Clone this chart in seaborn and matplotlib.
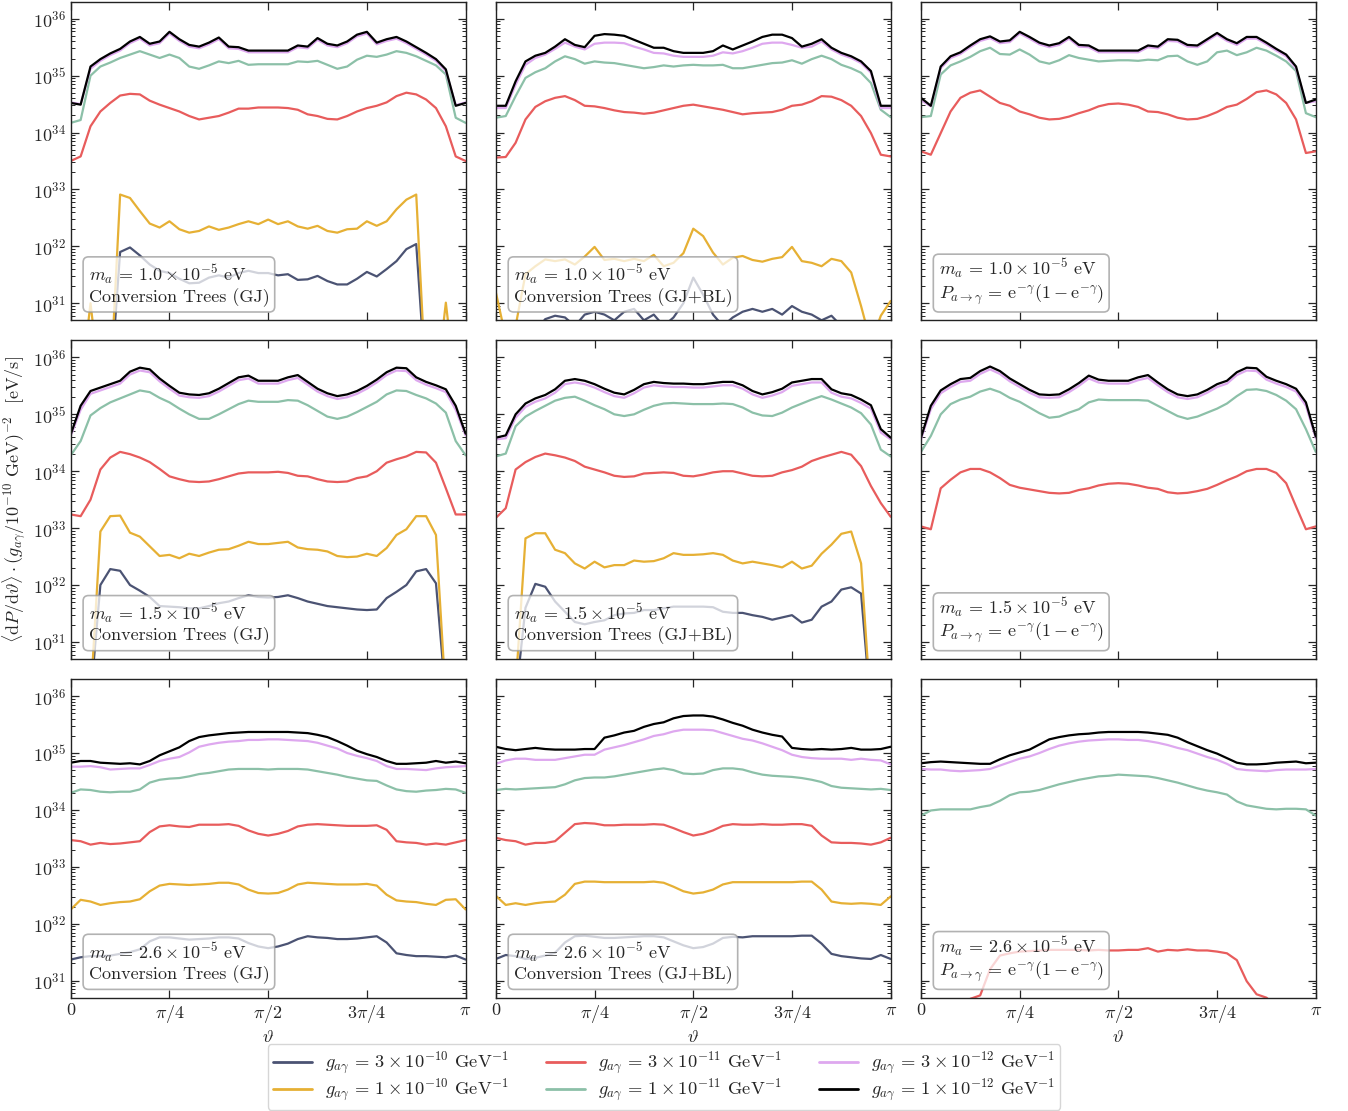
import numpy as np
import pandas as pd
import matplotlib
matplotlib.use("Agg")
import matplotlib.pyplot as plt
import seaborn as sns
from matplotlib.lines import Line2D
from matplotlib.ticker import LogLocator, NullFormatter

# ---------------------------------------------------------------------------
# Data: log10 of <dP/dtheta> (eV/s), on a 41-point grid
# theta = 0 ... pi.  Values below ~30.7 lie under the visible axis range.
# ---------------------------------------------------------------------------
N_THETA = 41

# m_a = 1.0e-5 eV, Conversion Trees (GJ)
GJ_M10_BLUE = [29.5,29.5,29.5,29.5,29.5,31.90,31.98,31.84,31.68,31.57,31.53,31.43,31.35,31.36,31.45,31.49,31.45,31.53,31.57,31.53,31.53,31.49,31.51,31.41,31.42,31.48,31.39,31.33,31.33,31.43,31.55,31.47,31.60,31.74,31.95,32.04,29.5,29.5,29.5,29.5,29.5]
GJ_M10_YELLOW = [29.5,29.5,31.0,29.5,29.5,32.91,32.85,32.62,32.40,32.33,32.44,32.30,32.24,32.27,32.35,32.29,32.33,32.39,32.44,32.39,32.47,32.39,32.44,32.35,32.31,32.36,32.27,32.24,32.30,32.31,32.44,32.36,32.44,32.65,32.82,32.91,29.5,29.5,31.01,29.5,29.5]
GJ_M10_RED = [33.50,33.58,34.11,34.37,34.52,34.65,34.68,34.67,34.56,34.49,34.43,34.37,34.29,34.23,34.26,34.29,34.35,34.42,34.42,34.44,34.44,34.44,34.43,34.40,34.32,34.29,34.24,34.23,34.29,34.37,34.43,34.47,34.53,34.64,34.70,34.67,34.58,34.43,34.11,33.58,33.50]
GJ_M10_GREEN = [34.17,34.22,35.00,35.16,35.23,35.31,35.37,35.43,35.37,35.31,35.37,35.31,35.16,35.12,35.18,35.25,35.22,35.26,35.19,35.20,35.20,35.20,35.20,35.25,35.24,35.26,35.19,35.12,35.16,35.28,35.35,35.33,35.37,35.43,35.40,35.34,35.26,35.18,35.02,34.26,34.17]
GJ_M10_VIOLET = [34.53,34.50,35.12,35.26,35.36,35.44,35.57,35.65,35.53,35.57,35.74,35.61,35.51,35.48,35.55,35.64,35.48,35.47,35.41,35.41,35.41,35.41,35.41,35.50,35.48,35.63,35.53,35.50,35.57,35.69,35.74,35.55,35.61,35.65,35.57,35.47,35.37,35.26,35.08,34.48,34.53]
GJ_M10_BLACK = [34.52,34.49,35.16,35.29,35.39,35.47,35.60,35.68,35.56,35.60,35.77,35.64,35.54,35.51,35.58,35.67,35.51,35.50,35.44,35.44,35.44,35.44,35.44,35.53,35.51,35.66,35.56,35.53,35.60,35.72,35.77,35.58,35.64,35.68,35.60,35.50,35.40,35.29,35.11,34.47,34.52]

# m_a = 1.0e-5 eV, Conversion Trees (GJ+BL)
GJBL_M10_BLUE = [29.8,29.8,30.0,30.3,30.5,30.72,30.78,30.75,30.6,30.8,30.85,30.8,30.7,30.85,30.9,30.7,30.8,30.6,30.75,31.0,31.45,31.15,30.8,30.6,30.75,30.85,30.9,30.85,30.9,30.8,30.95,30.85,30.8,30.7,30.78,30.6,30.3,30.0,29.8,29.8,29.8]
GJBL_M10_YELLOW = [31.19,30.4,30.6,31.51,31.65,31.77,31.74,31.77,31.68,31.82,31.99,31.76,31.78,31.74,31.78,31.74,31.85,31.65,31.71,31.88,32.31,32.18,31.89,31.68,31.80,31.83,31.76,31.73,31.78,31.81,31.99,31.74,31.71,31.65,31.78,31.74,31.54,30.95,30.3,30.78,31.04]
GJBL_M10_RED = [33.56,33.57,33.82,34.23,34.45,34.55,34.61,34.64,34.57,34.47,34.46,34.43,34.39,34.36,34.35,34.33,34.35,34.39,34.43,34.47,34.49,34.46,34.43,34.40,34.36,34.32,34.34,34.35,34.36,34.40,34.47,34.49,34.55,34.64,34.63,34.57,34.47,34.29,33.99,33.61,33.58]
GJBL_M10_GREEN = [34.26,34.29,34.64,34.96,35.06,35.13,35.25,35.34,35.29,35.21,35.25,35.23,35.22,35.19,35.16,35.13,35.15,35.18,35.16,35.18,35.19,35.18,35.18,35.19,35.13,35.13,35.16,35.19,35.22,35.23,35.27,35.21,35.29,35.35,35.29,35.19,35.13,35.05,34.87,34.40,34.27]
GJBL_M10_VIOLET = [34.43,34.43,34.84,35.19,35.31,35.37,35.47,35.58,35.51,35.46,35.56,35.58,35.58,35.57,35.51,35.46,35.40,35.39,35.35,35.33,35.33,35.33,35.35,35.41,35.39,35.43,35.49,35.56,35.58,35.58,35.54,35.49,35.51,35.60,35.46,35.37,35.31,35.22,35.05,34.43,34.43]
GJBL_M10_BLACK = [34.47,34.47,34.90,35.25,35.35,35.40,35.51,35.64,35.54,35.50,35.70,35.73,35.72,35.70,35.63,35.56,35.49,35.49,35.43,35.40,35.40,35.40,35.43,35.53,35.46,35.53,35.60,35.68,35.72,35.72,35.66,35.51,35.56,35.64,35.49,35.40,35.34,35.25,35.08,34.47,34.47]

# m_a = 1.0e-5 eV, analytic P = e^-g (1 - e^-g)
ANA_M10_RED = [33.67,33.61,33.99,34.37,34.61,34.70,34.74,34.63,34.52,34.47,34.37,34.32,34.26,34.23,34.24,34.28,34.34,34.39,34.46,34.50,34.51,34.49,34.45,34.37,34.36,34.32,34.26,34.23,34.24,34.29,34.36,34.45,34.49,34.59,34.71,34.74,34.67,34.52,34.23,33.64,33.67]
ANA_M10_GREEN = [34.27,34.29,35.02,35.18,35.25,35.33,35.43,35.49,35.38,35.37,35.46,35.37,35.25,35.21,35.27,35.36,35.31,35.28,35.25,35.26,35.27,35.27,35.26,35.28,35.27,35.34,35.35,35.25,35.19,35.25,35.41,35.44,35.36,35.41,35.49,35.44,35.35,35.25,35.08,34.34,34.27]
ANA_M10_VIOLET = [34.57,34.46,35.13,35.31,35.38,35.50,35.61,35.66,35.57,35.59,35.74,35.65,35.55,35.50,35.54,35.65,35.51,35.50,35.41,35.41,35.41,35.41,35.41,35.50,35.48,35.61,35.60,35.51,35.50,35.61,35.72,35.61,35.54,35.65,35.65,35.55,35.44,35.34,35.13,34.52,34.55]
ANA_M10_BLACK = [34.61,34.47,35.16,35.34,35.41,35.53,35.64,35.69,35.60,35.62,35.77,35.68,35.58,35.53,35.57,35.68,35.54,35.53,35.44,35.44,35.44,35.44,35.44,35.53,35.51,35.64,35.63,35.54,35.53,35.64,35.75,35.64,35.57,35.68,35.68,35.58,35.47,35.37,35.16,34.52,34.58]

# m_a = 1.5e-5 eV, Conversion Trees (GJ)
GJ_M15_BLUE = [29.5,29.5,30.0,32.0,32.28,32.25,32.0,31.90,31.79,31.63,31.62,31.61,31.59,31.59,31.63,31.68,31.71,31.77,31.82,31.79,31.78,31.79,31.82,31.77,31.71,31.67,31.63,31.61,31.59,31.57,31.56,31.57,31.77,31.88,32.0,32.24,32.28,32.03,30.0,29.5,29.5]
GJ_M15_YELLOW = [29.5,29.5,30.0,32.94,33.21,33.22,32.92,32.85,32.68,32.51,32.53,32.47,32.55,32.51,32.57,32.62,32.63,32.69,32.76,32.72,32.72,32.74,32.76,32.66,32.63,32.62,32.59,32.51,32.49,32.50,32.55,32.51,32.65,32.88,32.98,33.21,33.21,32.88,30.0,29.5,29.5]
GJ_M15_RED = [33.24,33.21,33.50,34.03,34.24,34.34,34.30,34.24,34.16,34.04,33.91,33.86,33.82,33.81,33.82,33.86,33.91,33.96,33.98,33.98,33.98,33.99,33.97,33.92,33.91,33.86,33.82,33.81,33.82,33.88,33.91,34.00,34.15,34.21,34.26,34.34,34.33,34.15,33.70,33.24,33.24]
GJ_M15_GREEN = [34.28,34.53,34.98,35.11,35.21,35.28,35.35,35.42,35.39,35.29,35.21,35.10,35.00,34.92,34.92,35.00,35.09,35.18,35.24,35.22,35.22,35.22,35.25,35.24,35.16,35.06,34.96,34.92,34.96,35.04,35.13,35.22,35.35,35.42,35.41,35.34,35.28,35.19,35.03,34.53,34.28]
GJ_M15_VIOLET = [34.62,35.08,35.36,35.42,35.48,35.54,35.70,35.77,35.74,35.58,35.45,35.33,35.30,35.29,35.32,35.40,35.50,35.60,35.63,35.54,35.54,35.54,35.60,35.64,35.52,35.40,35.32,35.27,35.30,35.36,35.45,35.56,35.69,35.77,35.76,35.60,35.52,35.46,35.39,35.08,34.63]
GJ_M15_BLACK = [34.65,35.15,35.41,35.47,35.53,35.59,35.75,35.82,35.79,35.63,35.50,35.38,35.35,35.34,35.37,35.45,35.55,35.65,35.68,35.59,35.59,35.59,35.65,35.69,35.57,35.45,35.37,35.32,35.35,35.41,35.50,35.61,35.74,35.82,35.81,35.65,35.57,35.51,35.44,35.15,34.66]

# m_a = 1.5e-5 eV, Conversion Trees (GJ+BL)
GJBL_M15_BLUE = [29.5,29.5,30.0,31.6,32.02,31.97,31.71,31.53,31.35,31.31,31.35,31.38,31.47,31.50,31.51,31.56,31.56,31.59,31.62,31.62,31.62,31.62,31.61,31.53,31.51,31.51,31.47,31.44,31.39,31.43,31.47,31.34,31.39,31.62,31.71,31.92,31.96,31.85,29.8,29.5,29.5]
GJBL_M15_YELLOW = [29.5,29.8,30.2,32.82,32.91,32.91,32.62,32.56,32.38,32.29,32.41,32.31,32.35,32.35,32.43,32.41,32.42,32.47,32.56,32.53,32.53,32.54,32.56,32.53,32.43,32.38,32.41,32.38,32.35,32.31,32.41,32.29,32.34,32.55,32.71,32.90,32.94,32.38,29.8,29.5,29.5]
GJBL_M15_RED = [33.18,33.35,34.03,34.16,34.25,34.31,34.28,34.24,34.18,34.08,34.03,33.98,33.92,33.90,33.91,33.96,33.97,33.98,33.97,33.92,33.91,33.94,33.98,34.00,34.00,33.96,33.92,33.91,33.92,33.98,34.02,34.08,34.18,34.24,34.29,34.34,34.29,34.09,33.74,33.44,33.20]
GJBL_M15_GREEN = [34.26,34.31,34.79,34.96,35.06,35.15,35.24,35.29,35.31,35.24,35.16,35.09,35.00,34.97,35.00,35.08,35.15,35.19,35.20,35.19,35.18,35.18,35.18,35.19,35.18,35.12,35.03,34.98,34.97,35.03,35.12,35.19,35.26,35.32,35.26,35.19,35.12,35.02,34.82,34.38,34.26]
GJBL_M15_VIOLET = [34.56,34.58,34.94,35.13,35.22,35.28,35.38,35.53,35.56,35.53,35.47,35.39,35.32,35.29,35.37,35.47,35.51,35.49,35.48,35.48,35.47,35.47,35.49,35.51,35.51,35.45,35.35,35.29,35.33,35.39,35.50,35.53,35.56,35.56,35.38,35.31,35.28,35.20,35.10,34.68,34.56]
GJBL_M15_BLACK = [34.59,34.63,35.00,35.19,35.28,35.34,35.44,35.59,35.62,35.59,35.53,35.45,35.38,35.35,35.43,35.53,35.57,35.55,35.54,35.54,35.53,35.53,35.55,35.57,35.57,35.51,35.41,35.35,35.39,35.45,35.56,35.59,35.62,35.62,35.44,35.37,35.34,35.26,35.16,34.74,34.59]

# m_a = 1.5e-5 eV, analytic
ANA_M15_RED = [33.03,32.98,33.70,33.85,33.98,34.04,34.04,33.98,33.88,33.76,33.71,33.68,33.65,33.62,33.61,33.62,33.67,33.70,33.75,33.78,33.79,33.78,33.75,33.71,33.69,33.63,33.61,33.62,33.65,33.69,33.76,33.84,33.91,34.00,34.04,34.04,33.97,33.79,33.38,32.98,33.03]
ANA_M15_GREEN = [34.34,34.62,35.00,35.18,35.26,35.31,35.40,35.45,35.39,35.29,35.22,35.12,35.02,34.94,34.96,35.03,35.09,35.21,35.26,35.25,35.25,35.25,35.25,35.24,35.15,35.06,34.97,34.92,34.96,35.03,35.10,35.19,35.32,35.43,35.44,35.41,35.34,35.24,35.09,34.74,34.34]
ANA_M15_VIOLET = [34.56,35.09,35.37,35.48,35.57,35.59,35.71,35.79,35.71,35.58,35.48,35.38,35.30,35.29,35.30,35.39,35.50,35.63,35.56,35.54,35.54,35.54,35.60,35.64,35.51,35.39,35.30,35.27,35.30,35.38,35.48,35.54,35.69,35.77,35.76,35.61,35.54,35.48,35.40,35.15,34.58]
ANA_M15_BLACK = [34.59,35.15,35.42,35.53,35.62,35.64,35.76,35.84,35.76,35.63,35.53,35.43,35.35,35.34,35.35,35.44,35.55,35.68,35.61,35.59,35.59,35.59,35.65,35.69,35.56,35.44,35.35,35.32,35.35,35.43,35.53,35.59,35.74,35.82,35.81,35.66,35.59,35.53,35.45,35.21,34.61]

# m_a = 2.6e-5 eV, Conversion Trees (GJ)
GJ_M26_BLUE = [31.37,31.41,31.43,31.43,31.44,31.47,31.50,31.55,31.69,31.76,31.76,31.74,31.72,31.73,31.74,31.76,31.76,31.74,31.66,31.60,31.57,31.60,31.65,31.73,31.78,31.76,31.75,31.73,31.73,31.74,31.76,31.78,31.67,31.48,31.45,31.43,31.43,31.42,31.41,31.44,31.37]
GJ_M26_YELLOW = [32.25,32.42,32.39,32.33,32.36,32.38,32.39,32.43,32.57,32.67,32.70,32.69,32.68,32.69,32.70,32.72,32.72,32.69,32.60,32.54,32.53,32.54,32.60,32.69,32.72,32.71,32.70,32.69,32.69,32.69,32.70,32.67,32.51,32.41,32.39,32.38,32.35,32.33,32.42,32.43,32.25]
GJ_M26_RED = [33.47,33.45,33.39,33.42,33.40,33.41,33.43,33.45,33.61,33.71,33.73,33.71,33.70,33.74,33.74,33.74,33.75,33.72,33.64,33.58,33.55,33.58,33.63,33.71,33.74,33.75,33.74,33.73,33.72,33.72,33.72,33.73,33.65,33.45,33.43,33.42,33.39,33.41,33.39,33.43,33.47]
GJ_M26_GREEN = [34.30,34.36,34.35,34.32,34.31,34.32,34.32,34.36,34.48,34.53,34.55,34.56,34.59,34.63,34.65,34.68,34.71,34.72,34.72,34.72,34.71,34.72,34.72,34.72,34.71,34.68,34.65,34.62,34.58,34.55,34.52,34.51,34.43,34.36,34.33,34.32,34.34,34.35,34.37,34.36,34.30]
GJ_M26_VIOLET = [34.76,34.76,34.77,34.75,34.71,34.72,34.73,34.73,34.79,34.86,34.90,34.93,35.01,35.11,35.15,35.18,35.20,35.21,35.23,35.23,35.24,35.24,35.23,35.22,35.21,35.18,35.13,35.08,35.00,34.95,34.91,34.86,34.77,34.72,34.72,34.71,34.70,34.73,34.75,34.76,34.77]
GJ_M26_BLACK = [34.83,34.86,34.86,34.83,34.82,34.81,34.82,34.80,34.86,34.96,35.03,35.10,35.21,35.28,35.31,35.33,35.35,35.36,35.37,35.37,35.37,35.37,35.37,35.36,35.35,35.32,35.28,35.21,35.13,35.04,34.98,34.93,34.86,34.81,34.81,34.82,34.83,34.86,34.83,34.85,34.82]

# m_a = 2.6e-5 eV, Conversion Trees (GJ+BL)
GJBL_M26_BLUE = [31.38,31.45,31.43,31.38,31.40,31.44,31.49,31.67,31.78,31.79,31.77,31.75,31.75,31.76,31.77,31.78,31.78,31.76,31.69,31.62,31.57,31.59,31.65,31.75,31.77,31.76,31.78,31.78,31.78,31.78,31.78,31.79,31.79,31.65,31.47,31.43,31.41,31.39,31.38,31.45,31.38]
GJBL_M26_YELLOW = [32.49,32.33,32.36,32.33,32.36,32.38,32.39,32.51,32.70,32.74,32.74,32.73,32.73,32.73,32.73,32.73,32.74,32.72,32.65,32.57,32.53,32.55,32.60,32.69,32.73,32.73,32.73,32.73,32.73,32.73,32.73,32.74,32.74,32.60,32.39,32.36,32.35,32.36,32.35,32.33,32.48]
GJBL_M26_RED = [33.51,33.47,33.45,33.39,33.42,33.42,33.45,33.60,33.75,33.77,33.76,33.73,33.73,33.74,33.74,33.74,33.75,33.74,33.68,33.61,33.55,33.58,33.64,33.72,33.75,33.74,33.74,33.75,33.74,33.74,33.75,33.75,33.72,33.55,33.43,33.42,33.42,33.41,33.39,33.43,33.51]
GJBL_M26_GREEN = [34.35,34.37,34.36,34.37,34.38,34.39,34.40,34.45,34.52,34.56,34.57,34.57,34.59,34.62,34.65,34.68,34.71,34.73,34.70,34.64,34.63,34.64,34.70,34.73,34.73,34.71,34.66,34.62,34.60,34.59,34.58,34.56,34.53,34.49,34.42,34.39,34.38,34.37,34.36,34.37,34.35]
GJBL_M26_VIOLET = [34.81,34.87,34.90,34.90,34.88,34.88,34.88,34.91,34.94,34.97,34.97,35.06,35.10,35.14,35.19,35.24,35.30,35.33,35.38,35.41,35.41,35.41,35.40,35.35,35.30,35.25,35.22,35.17,35.11,35.05,34.97,34.93,34.91,34.90,34.90,34.90,34.88,34.90,34.88,34.87,34.80]
GJBL_M26_BLACK = [35.11,35.07,35.05,35.07,35.09,35.07,35.06,35.06,35.06,35.07,35.07,35.27,35.31,35.36,35.39,35.46,35.51,35.54,35.61,35.65,35.66,35.66,35.64,35.59,35.53,35.48,35.41,35.36,35.32,35.29,35.09,35.07,35.06,35.07,35.06,35.07,35.09,35.06,35.06,35.07,35.11]

# m_a = 2.6e-5 eV, analytic
ANA_M26_RED = [29.8,29.9,30.1,30.3,30.5,30.68,30.74,31.2,31.44,31.48,31.51,31.52,31.53,31.54,31.54,31.54,31.54,31.53,31.54,31.53,31.53,31.54,31.54,31.57,31.51,31.54,31.53,31.55,31.53,31.53,31.51,31.48,31.36,30.99,30.76,30.70,30.55,30.4,30.2,30.0,29.8]
ANA_M26_GREEN = [33.90,33.99,34.01,34.01,34.01,34.01,34.05,34.08,34.16,34.26,34.31,34.32,34.35,34.40,34.45,34.49,34.53,34.56,34.59,34.60,34.62,34.61,34.60,34.59,34.56,34.52,34.48,34.43,34.38,34.34,34.31,34.27,34.15,34.08,34.05,34.02,34.01,34.02,34.02,34.01,33.90]
ANA_M26_VIOLET = [34.72,34.71,34.71,34.69,34.68,34.69,34.70,34.72,34.78,34.84,34.90,34.94,35.00,35.07,35.13,35.17,35.20,35.22,35.23,35.24,35.24,35.23,35.23,35.21,35.18,35.14,35.09,35.05,34.99,34.93,34.88,34.81,34.72,34.70,34.69,34.68,34.70,34.71,34.71,34.71,34.72]
ANA_M26_BLACK = [34.82,34.84,34.85,34.84,34.83,34.82,34.81,34.81,34.89,34.96,35.01,35.06,35.15,35.24,35.28,35.31,35.33,35.34,35.36,35.37,35.37,35.37,35.37,35.36,35.34,35.32,35.27,35.19,35.12,35.05,34.99,34.91,34.83,34.80,34.80,34.81,34.83,34.84,34.85,34.82,34.83]

COUPLING_KEYS = ["3e-10", "1e-10", "3e-11", "1e-11", "3e-12", "1e-12"]
COUPLING_LABELS = [
    r"$g_{a\gamma}\, =\, 3\times10^{-10}$ GeV$^{-1}$",
    r"$g_{a\gamma}\, =\, 1\times10^{-10}$ GeV$^{-1}$",
    r"$g_{a\gamma}\, =\, 3\times10^{-11}$ GeV$^{-1}$",
    r"$g_{a\gamma}\, =\, 1\times10^{-11}$ GeV$^{-1}$",
    r"$g_{a\gamma}\, =\, 3\times10^{-12}$ GeV$^{-1}$",
    r"$g_{a\gamma}\, =\, 1\times10^{-12}$ GeV$^{-1}$",
]
COLORS = ["#4b5373", "#e6b034", "#e85c5c", "#8cc0a8", "#dea8ef", "#000000"]

MASS_LABELS = ["1.0", "1.5", "2.6"]
METHOD_LABELS = [
    "Conversion Trees (GJ)",
    "Conversion Trees (GJ+BL)",
    r"$P_{a\to\gamma}\, =\, \mathrm{e}^{-\gamma}(1-\mathrm{e}^{-\gamma})$",
]
XTICK_LABELS = ["0", r"$\pi/4$", r"$\pi/2$", r"$3\pi/4$", r"$\pi$"]

PANELS = {
    (0, 0): dict(zip(COUPLING_KEYS, [GJ_M10_BLUE, GJ_M10_YELLOW, GJ_M10_RED, GJ_M10_GREEN, GJ_M10_VIOLET, GJ_M10_BLACK])),
    (0, 1): dict(zip(COUPLING_KEYS, [GJBL_M10_BLUE, GJBL_M10_YELLOW, GJBL_M10_RED, GJBL_M10_GREEN, GJBL_M10_VIOLET, GJBL_M10_BLACK])),
    (0, 2): dict(zip(COUPLING_KEYS[2:], [ANA_M10_RED, ANA_M10_GREEN, ANA_M10_VIOLET, ANA_M10_BLACK])),
    (1, 0): dict(zip(COUPLING_KEYS, [GJ_M15_BLUE, GJ_M15_YELLOW, GJ_M15_RED, GJ_M15_GREEN, GJ_M15_VIOLET, GJ_M15_BLACK])),
    (1, 1): dict(zip(COUPLING_KEYS, [GJBL_M15_BLUE, GJBL_M15_YELLOW, GJBL_M15_RED, GJBL_M15_GREEN, GJBL_M15_VIOLET, GJBL_M15_BLACK])),
    (1, 2): dict(zip(COUPLING_KEYS[2:], [ANA_M15_RED, ANA_M15_GREEN, ANA_M15_VIOLET, ANA_M15_BLACK])),
    (2, 0): dict(zip(COUPLING_KEYS, [GJ_M26_BLUE, GJ_M26_YELLOW, GJ_M26_RED, GJ_M26_GREEN, GJ_M26_VIOLET, GJ_M26_BLACK])),
    (2, 1): dict(zip(COUPLING_KEYS, [GJBL_M26_BLUE, GJBL_M26_YELLOW, GJBL_M26_RED, GJBL_M26_GREEN, GJBL_M26_VIOLET, GJBL_M26_BLACK])),
    (2, 2): dict(zip(COUPLING_KEYS[2:], [ANA_M26_RED, ANA_M26_GREEN, ANA_M26_VIOLET, ANA_M26_BLACK])),
}

# ---------------------------------------------------------------------------
sns.set_style("ticks")
plt.rcParams.update({
    "font.family": "serif",
    "font.serif": ["cmr10", "DejaVu Serif"],
    "mathtext.fontset": "cm",
    "axes.unicode_minus": False,
    "axes.formatter.use_mathtext": True,
    "axes.linewidth": 1.0,
    "axes.edgecolor": "#222222",
})

THETA = np.linspace(0.0, np.pi, N_THETA)
palette = dict(zip(COUPLING_KEYS, COLORS))

fig, axes = plt.subplots(3, 3, figsize=(13.48, 11.11), dpi=100, sharex=True, sharey=True)
fig.subplots_adjust(left=0.0525, right=0.9761, top=0.9985, bottom=0.102,
                    wspace=0.0767, hspace=0.063)

for (r, c), series in PANELS.items():
    ax = axes[r, c]
    ax.set_yscale("log")
    order = [k for k in COUPLING_KEYS if k in series]
    frames = [pd.DataFrame({"theta": THETA,
                            "rate": np.power(10.0, np.asarray(series[k], dtype=float)),
                            "g": k}) for k in order]
    df = pd.concat(frames, ignore_index=True)
    sns.lineplot(data=df, x="theta", y="rate", hue="g", hue_order=order,
                 palette=palette, estimator=None, sort=False, legend=False,
                 linewidth=1.6, ax=ax)
    ax.set_xlabel("")
    ax.set_ylabel("")
    ax.text(0.045, 0.043,
            "$m_a\\, =\\, %s\\times 10^{-5}$ eV\n%s" % (MASS_LABELS[r], METHOD_LABELS[c]),
            transform=ax.transAxes, ha="left", va="bottom", fontsize=13,
            linespacing=1.1, zorder=10,
            bbox=dict(boxstyle="round,pad=0.3", fc="white", ec="#999999",
                      lw=1.2, alpha=0.75))

for ax in axes.flat:
    ax.set_xlim(0, np.pi)
    ax.set_ylim(10 ** 30.7, 10 ** 36.3)
    ax.set_xticks([0, np.pi / 4, np.pi / 2, 3 * np.pi / 4, np.pi])
    ax.set_xticklabels(XTICK_LABELS)
    ax.yaxis.set_major_locator(LogLocator(base=10, numticks=20))
    ax.yaxis.set_minor_locator(LogLocator(base=10, subs=np.arange(2, 10), numticks=20))
    ax.yaxis.set_minor_formatter(NullFormatter())
    ax.tick_params(which="both", direction="in", top=True, right=True, labelsize=13)
    ax.tick_params(which="major", length=6, width=0.9)
    ax.tick_params(which="minor", length=3, width=0.7)

for c in range(3):
    axes[2, c].set_xlabel(r"$\vartheta$", fontsize=13, labelpad=3)

axes[1, 0].set_ylabel(
    r"$\langle \mathrm{d}P/\mathrm{d}\vartheta\rangle \cdot (g_{a\gamma}/10^{-10}\ \mathrm{GeV})^{-2}$  [eV/s]",
    fontsize=13, labelpad=3)

handles = [Line2D([], [], color=col, lw=2.0) for col in COLORS]
fig.legend(handles, COUPLING_LABELS, loc="lower center", bbox_to_anchor=(0.4926, 0.001),
           ncol=3, fontsize=13.3, frameon=True, fancybox=True, edgecolor="#cccccc",
           handlelength=2.1, handletextpad=0.7, columnspacing=2.0,
           borderaxespad=0.0, labelspacing=0.0, borderpad=0.3)

fig.savefig("out.png", dpi=100)
